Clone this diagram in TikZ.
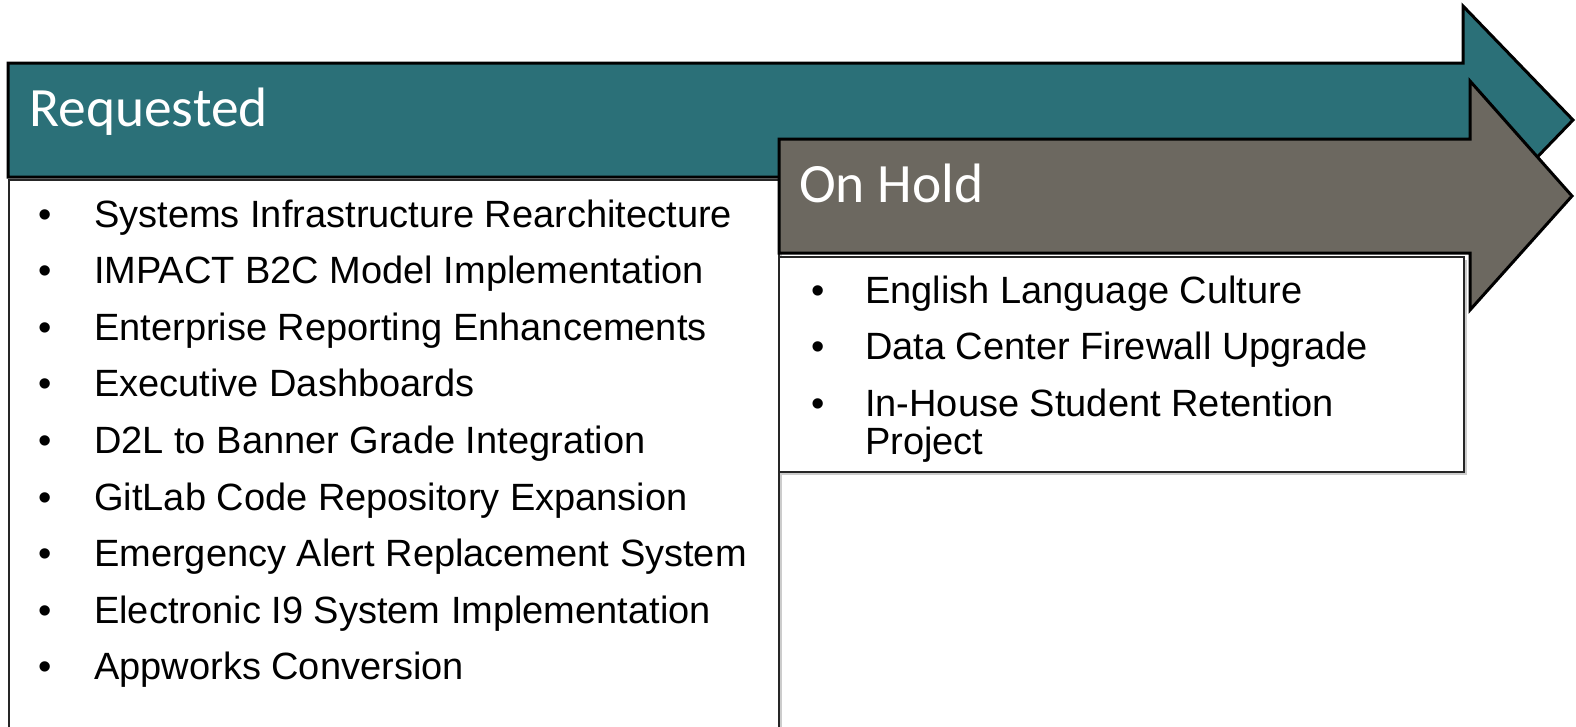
\documentclass[tikz,border=0pt]{standalone}
\usepackage{fontspec}
\setmainfont{Liberation Sans}
\newfontfamily\headfont{Carlito}
\usetikzlibrary{shadows}
\definecolor{tealc}{RGB}{43,112,120}
\definecolor{greyc}{RGB}{108,104,96}
\tikzset{
  arrowshape/.style={draw=black,line width=3pt,line join=miter},
  listbox/.style={draw=black!85,line width=1.6pt,fill=white,drop shadow={shadow xshift=2.5pt,shadow yshift=-2.5pt,opacity=0.4}},
  headtxt/.style={anchor=base west,inner sep=0pt,text=white,font=\headfont\fontsize{55.5}{55}\selectfont},
  itemtxt/.style={anchor=base west,inner sep=0pt,font=\fontsize{38}{38}\selectfont,align=left},
  bullettxt/.style={anchor=base,inner sep=0pt,font=\fontsize{38}{38}\selectfont}
}
\begin{document}
\begin{tikzpicture}[x=1pt,y=-1pt]
\useasboundingbox (0,0) rectangle (1576,726);
% teal arrow
\path[arrowshape,fill=tealc] (8,63) -- (1463,63) -- (1463,6) -- (1573,120) -- (1463,234) -- (1463,177) -- (8,177) -- cycle;
\node[headtxt] (req) at (29,126) {Requested};
% requested box
\path[listbox] (9,180) rectangle (779,740);
\foreach \t [count=\i from 0] in {Systems Infrastructure Rearchitecture,IMPACT B2C Model Implementation,Enterprise Reporting Enhancements,Executive Dashboards,D2L to Banner Grade Integration,GitLab Code Repository Expansion,Emergency Alert Replacement System,Electronic I9 System Implementation,Appworks Conversion}{
  \node[bullettxt] (rb\i) at (45,227+56.6*\i) {•};
  \node[itemtxt] (ri\i) at (94,227+56.6*\i) {\t};
}
% grey arrow
\path[arrowshape,fill=greyc] (779,139) -- (1470,139) -- (1470,81) -- (1572,196) -- (1470,310) -- (1470,253) -- (779,253) -- cycle;
\node[headtxt] (hold) at (799,202) {On Hold};
% on hold box
\path[listbox] (779,257) rectangle (1464,472);
\node[bullettxt] (hb0) at (818,303) {•};
\node[itemtxt] (hi0) at (865,303) {English Language Culture};
\node[bullettxt] (hb1) at (818,359.5) {•};
\node[itemtxt] (hi1) at (865,359.5) {Data Center Firewall Upgrade};
\node[bullettxt] (hb2) at (818,416) {•};
\node[itemtxt] (hi2) at (865,416) {In-House Student Retention};
\node[itemtxt] (hi3) at (865,454) {Project};
\end{tikzpicture}
\end{document}
